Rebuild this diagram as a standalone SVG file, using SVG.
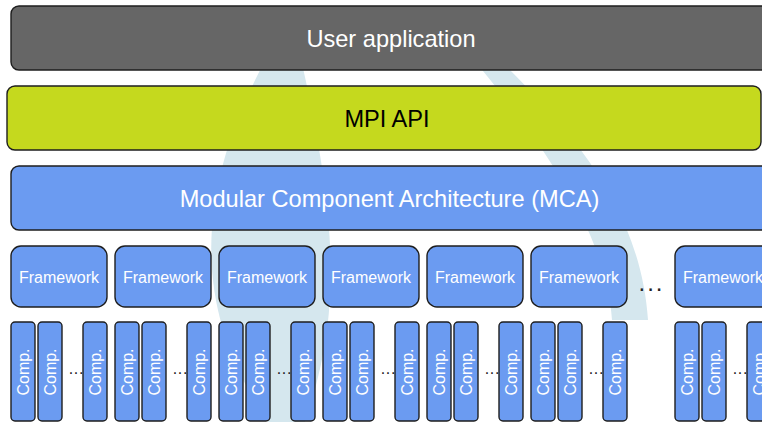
<svg xmlns="http://www.w3.org/2000/svg" width="762" height="422" viewBox="0 0 762 422">
<style>
.box{stroke:#1e1e1e;stroke-width:1.4}
.blue{fill:#6b9bf1}
.lbl{font-family:"Liberation Sans",Arial,sans-serif;fill:#ffffff;text-anchor:middle}
.big{font-size:23.6px}
.fw{font-size:16px}
.dots{font-family:"Liberation Sans",Arial,sans-serif;fill:#222;font-size:16px;letter-spacing:0.6px}
.wm{fill:#d5e7ee}
</style>
<rect width="762" height="422" fill="#ffffff"/>
<g id="watermark">
<path class="wm" d="M 268 55 C 200 180, 185 300, 268 422 L 305 422 C 335 330, 345 250, 300 55 Z"/>
<path class="wm" d="M 495 55 C 560 120, 640 200, 648 320 L 612 320 C 606 230, 540 140, 470 55 Z"/>
</g>
<g id="user-application">
<rect class="box" x="11" y="6" width="775" height="64" rx="8" fill="#666666"/>
<text class="lbl big" x="391" y="47">User application</text>
</g>
<g id="mpi-api">
<rect class="box" x="7" y="86" width="754" height="64" rx="8" fill="#c5d91e"/>
<text class="lbl big" x="387" y="127" style="fill:#000">MPI API</text>
</g>
<g id="mca">
<rect class="box blue" x="11" y="166" width="775" height="64" rx="8"/>
<text class="lbl big" x="389.5" y="207">Modular Component Architecture (MCA)</text>
</g>
<g id="framework-1">
<rect class="box blue" x="11" y="246" width="96" height="61" rx="10"/>
<text class="lbl fw" x="59" y="283">Framework</text>
</g>
<g id="framework-2">
<rect class="box blue" x="115" y="246" width="96" height="61" rx="10"/>
<text class="lbl fw" x="163" y="283">Framework</text>
</g>
<g id="framework-3">
<rect class="box blue" x="219" y="246" width="96" height="61" rx="10"/>
<text class="lbl fw" x="267" y="283">Framework</text>
</g>
<g id="framework-4">
<rect class="box blue" x="323" y="246" width="96" height="61" rx="10"/>
<text class="lbl fw" x="371" y="283">Framework</text>
</g>
<g id="framework-5">
<rect class="box blue" x="427" y="246" width="96" height="61" rx="10"/>
<text class="lbl fw" x="475" y="283">Framework</text>
</g>
<g id="framework-6">
<rect class="box blue" x="531" y="246" width="96" height="61" rx="10"/>
<text class="lbl fw" x="579" y="283">Framework</text>
</g>
<text class="dots" x="638.5" y="291" style="font-size:24px;letter-spacing:2px">...</text>
<g id="framework-7">
<rect class="box blue" x="675" y="246" width="96" height="61" rx="10"/>
<text class="lbl fw" x="723" y="283">Framework</text>
</g>
<g id="components">
<g id="comps-1">
<rect class="box blue" x="11" y="322" width="24" height="99" rx="4"/>
<rect class="box blue" x="38" y="322" width="24" height="99" rx="4"/>
<text class="dots" x="68.8" y="374">...</text>
<rect class="box blue" x="83" y="322" width="24" height="99" rx="4"/>
<text class="lbl fw" transform="translate(28.8,372) rotate(-90)">Comp.</text>
<text class="lbl fw" transform="translate(55.8,372) rotate(-90)">Comp.</text>
<text class="lbl fw" transform="translate(100.8,372) rotate(-90)">Comp.</text>
</g>
<g id="comps-2">
<rect class="box blue" x="115" y="322" width="24" height="99" rx="4"/>
<rect class="box blue" x="142" y="322" width="24" height="99" rx="4"/>
<text class="dots" x="172.8" y="374">...</text>
<rect class="box blue" x="187" y="322" width="24" height="99" rx="4"/>
<text class="lbl fw" transform="translate(132.8,372) rotate(-90)">Comp.</text>
<text class="lbl fw" transform="translate(159.8,372) rotate(-90)">Comp.</text>
<text class="lbl fw" transform="translate(204.8,372) rotate(-90)">Comp.</text>
</g>
<g id="comps-3">
<rect class="box blue" x="219" y="322" width="24" height="99" rx="4"/>
<rect class="box blue" x="246" y="322" width="24" height="99" rx="4"/>
<text class="dots" x="276.8" y="374">...</text>
<rect class="box blue" x="291" y="322" width="24" height="99" rx="4"/>
<text class="lbl fw" transform="translate(236.8,372) rotate(-90)">Comp.</text>
<text class="lbl fw" transform="translate(263.8,372) rotate(-90)">Comp.</text>
<text class="lbl fw" transform="translate(308.8,372) rotate(-90)">Comp.</text>
</g>
<g id="comps-4">
<rect class="box blue" x="323" y="322" width="24" height="99" rx="4"/>
<rect class="box blue" x="350" y="322" width="24" height="99" rx="4"/>
<text class="dots" x="380.8" y="374">...</text>
<rect class="box blue" x="395" y="322" width="24" height="99" rx="4"/>
<text class="lbl fw" transform="translate(340.8,372) rotate(-90)">Comp.</text>
<text class="lbl fw" transform="translate(367.8,372) rotate(-90)">Comp.</text>
<text class="lbl fw" transform="translate(412.8,372) rotate(-90)">Comp.</text>
</g>
<g id="comps-5">
<rect class="box blue" x="427" y="322" width="24" height="99" rx="4"/>
<rect class="box blue" x="454" y="322" width="24" height="99" rx="4"/>
<text class="dots" x="484.8" y="374">...</text>
<rect class="box blue" x="499" y="322" width="24" height="99" rx="4"/>
<text class="lbl fw" transform="translate(444.8,372) rotate(-90)">Comp.</text>
<text class="lbl fw" transform="translate(471.8,372) rotate(-90)">Comp.</text>
<text class="lbl fw" transform="translate(516.8,372) rotate(-90)">Comp.</text>
</g>
<g id="comps-6">
<rect class="box blue" x="531" y="322" width="24" height="99" rx="4"/>
<rect class="box blue" x="558" y="322" width="24" height="99" rx="4"/>
<text class="dots" x="588.8" y="374">...</text>
<rect class="box blue" x="603" y="322" width="24" height="99" rx="4"/>
<text class="lbl fw" transform="translate(548.8,372) rotate(-90)">Comp.</text>
<text class="lbl fw" transform="translate(575.8,372) rotate(-90)">Comp.</text>
<text class="lbl fw" transform="translate(620.8,372) rotate(-90)">Comp.</text>
</g>
<g id="comps-7">
<rect class="box blue" x="675" y="322" width="24" height="99" rx="4"/>
<rect class="box blue" x="702" y="322" width="24" height="99" rx="4"/>
<text class="dots" x="732.8" y="374">...</text>
<rect class="box blue" x="747" y="322" width="24" height="99" rx="4"/>
<text class="lbl fw" transform="translate(692.8,372) rotate(-90)">Comp.</text>
<text class="lbl fw" transform="translate(719.8,372) rotate(-90)">Comp.</text>
<text class="lbl fw" transform="translate(764.8,372) rotate(-90)">Comp.</text>
</g>
</g>
</svg>
